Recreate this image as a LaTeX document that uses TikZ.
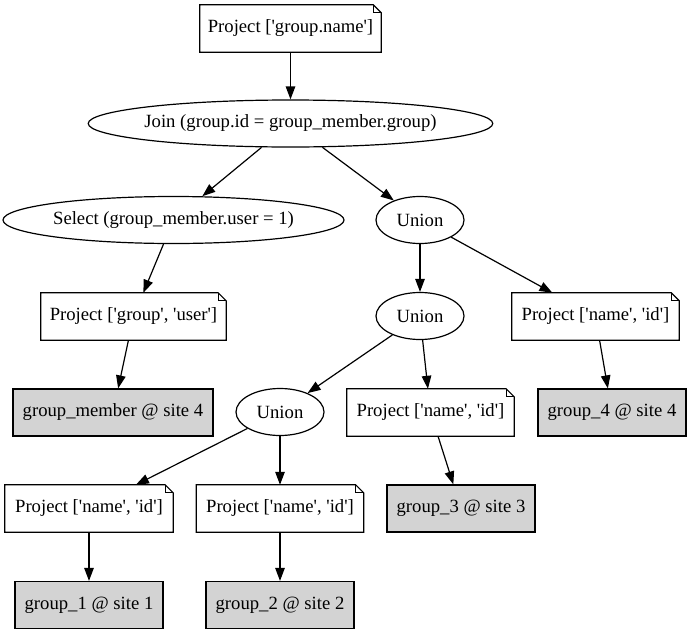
\documentclass[tikz,border=0pt]{standalone}
\usepackage{fontspec}
\setmainfont{Liberation Serif}[Ligatures=TeXOff]
\usetikzlibrary{shapes.geometric,arrows.meta}
\begin{document}
\begin{tikzpicture}[x=1pt,y=-1pt,
  every node/.style={font=\fontsize{18.67}{22}\selectfont, inner sep=0pt},
  notebox/.style={rectangle, minimum height=47pt},
  oval/.style={ellipse, draw, line width=1.2pt, minimum height=47pt},
  relbox/.style={rectangle, draw, line width=1.2pt, fill={rgb,255:red,211;green,211;blue,211}, minimum width=148pt, minimum height=47pt},
  edge/.style={line width=1.2pt, -{Triangle[length=13pt,width=9.5pt]}},
  outline/.style={line width=1.2pt}
]
\useasboundingbox (0,0) rectangle (691,635);

% nodes
\node[notebox, minimum width=181pt] (p0) at (290.5,28.5) {Project ['group.name']};
\node[oval, minimum width=401pt, inner xsep=-3pt] (join) at (290.5,123.5) {Join (group.id = group\_member.group)};
\node[oval, minimum width=341pt, inner xsep=-2pt] (sel) at (173.5,220) {Select (group\_member.user = 1)};
\node[oval, minimum width=88pt] (u1) at (420,220) {Union};
\node[notebox, minimum width=185pt] (p1) at (133.5,316.5) {Project ['group', 'user']};
\node[oval, minimum width=88pt] (u2) at (420,316) {Union};
\node[notebox, minimum width=167pt] (p2) at (595.5,316.5) {Project ['name', 'id']};
\node[relbox, minimum width=200pt] (gm) at (113,412.5) {group\_member @ site 4};
\node[oval, minimum width=88pt] (u3) at (280,412) {Union};
\node[notebox, minimum width=167pt] (p3) at (430.5,412.5) {Project ['name', 'id']};
\node[relbox] (g4) at (612,412.5) {group\_4 @ site 4};
\node[notebox, minimum width=168pt] (p4) at (89,508.5) {Project ['name', 'id']};
\node[notebox, minimum width=167pt] (p5) at (280,508.5) {Project ['name', 'id']};
\node[relbox] (g3) at (461,508.5) {group\_3 @ site 3};
\node[relbox] (g1) at (89,605) {group\_1 @ site 1};
\node[relbox] (g2) at (280,605) {group\_2 @ site 2};

% note outlines
\foreach \n in {p0,p1,p2,p3,p4,p5} {
  \draw[outline, line join=miter] (\n.south west) -- (\n.north west) -- ([xshift=-8pt]\n.north east)
     -- ([yshift=-8pt]\n.north east) -- (\n.south east) -- cycle;
  \draw[line width=0.8pt] ([xshift=-8pt]\n.north east) |- ([yshift=-8pt]\n.north east);
}

% edges
\draw[edge] (p0) -- (join);
\draw[edge] (join) -- (sel);
\draw[edge] (join) -- (u1);
\draw[edge] (sel) -- (p1);
\draw[edge] (u1) -- (u2);
\draw[edge] (u1) -- (p2);
\draw[edge] (p1) -- (gm);
\draw[edge] (u2) -- (u3);
\draw[edge] (u2) -- (p3);
\draw[edge] (p2) -- (g4);
\draw[edge] (u3) -- (p4);
\draw[edge] (u3) -- (p5);
\draw[edge] (p3) -- (g3);
\draw[edge] (p4) -- (g1);
\draw[edge] (p5) -- (g2);
\end{tikzpicture}
\end{document}
